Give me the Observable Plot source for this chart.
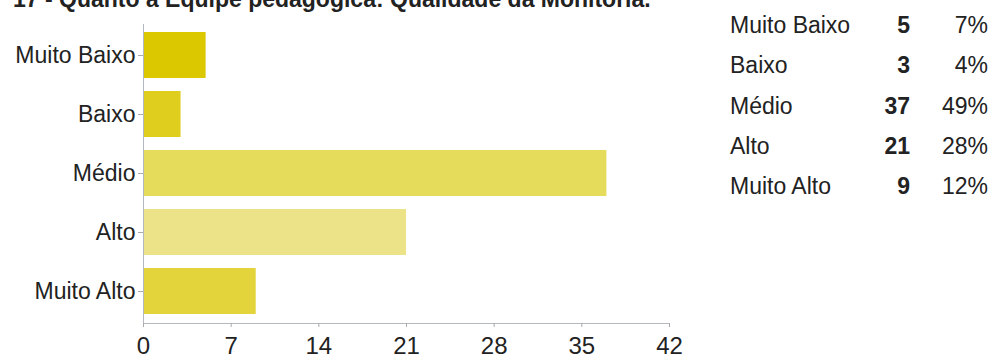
<!DOCTYPE html>
<html>
<head>
<meta charset="utf-8">
<script src="https://cdn.jsdelivr.net/npm/d3@7"></script>
<script src="https://cdn.jsdelivr.net/npm/@observablehq/plot@0.6"></script>
<style>
  html, body { margin: 0; padding: 0; background: #fff; width: 994px; height: 354px; overflow: hidden; }
  body { position: relative; font-family: "Liberation Sans", Arial, Helvetica, sans-serif; color: #222; }
  #title { position: absolute; left: 13px; top: -12.5px; font-size: 23px; line-height: 23px; font-weight: bold; white-space: nowrap; }
  #chart { position: absolute; left: 0; top: 0; }
  .cell { position: absolute; font-size: 23px; line-height: 23px; white-space: nowrap; }
</style>
</head>
<body>
<div id="title"></div>
<div id="chart"></div>
<div id="table"></div>
<script>
const title = "17 - Quanto à Equipe pedagógica: Qualidade da Monitoria.";
const categories = ["Muito Baixo", "Baixo", "Médio", "Alto", "Muito Alto"];
const counts = [5, 3, 37, 21, 9];
const percents = ["7%", "4%", "49%", "28%", "12%"];
const colors = ["#dcc800", "#e0ce1e", "#e6dc5c", "#ece389", "#e4d43c"];
const xTicks = [0, 7, 14, 21, 28, 35, 42];

document.getElementById("title").textContent = title;

const data = categories.map((c, i) => ({category: c, count: counts[i]}));

const chart = Plot.plot({
  width: 700,
  height: 354,
  marginLeft: 143,
  marginRight: 31,
  marginTop: 24,
  marginBottom: 31,
  style: {fontFamily: "'Liberation Sans', Arial, sans-serif", fontSize: "23px", color: "#222", background: "transparent"},
  x: {domain: [0, 42], ticks: xTicks, label: null},
  y: {domain: categories, label: null, paddingInner: 0.22, paddingOuter: 0.14},
  color: {domain: categories, range: colors},
  marks: [
    Plot.barX(data, {x: "count", y: "category", fill: "category"}),
    Plot.frame({anchor: "left", stroke: "#b4b8c0"}),
    Plot.frame({anchor: "bottom", stroke: "#b4b8c0"}),
    Plot.axisY({tickSize: 5, tickPadding: 3, stroke: "#aaa", fontSize: 23, fill: "#222"}),
    Plot.axisX({ticks: xTicks, tickSize: 4, tickPadding: 9, stroke: "#aaa", fontSize: 24, fill: "#222"})
  ]
});
document.getElementById("chart").appendChild(chart);

// Right-side summary table
const table = document.getElementById("table");
const rowBaseline0 = 34, rowStep = 40.3;
categories.forEach((c, i) => {
  const top = rowBaseline0 + i * rowStep - 20;
  const lab = document.createElement("div");
  lab.className = "cell";
  lab.style.left = "730px";
  lab.style.top = top + "px";
  lab.textContent = c;
  table.appendChild(lab);

  const cnt = document.createElement("div");
  cnt.className = "cell";
  cnt.style.right = (994 - 910) + "px";
  cnt.style.top = top + "px";
  cnt.style.fontWeight = "bold";
  cnt.textContent = counts[i];
  table.appendChild(cnt);

  const pct = document.createElement("div");
  pct.className = "cell";
  pct.style.right = (994 - 988) + "px";
  pct.style.top = top + "px";
  pct.textContent = percents[i];
  table.appendChild(pct);
});
</script>
</body>
</html>
